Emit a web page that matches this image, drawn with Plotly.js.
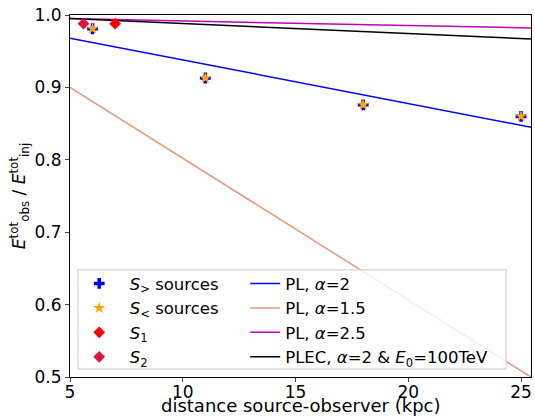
<!DOCTYPE html>
<html><head><meta charset="utf-8">
<script src="https://cdn.plot.ly/plotly-3.0.1.min.js"></script>
<style>body{margin:0;padding:0;}#plot{width:535px;height:417px;}</style>
</head><body><div id="plot"></div>
<script>
// Source points
const srcDist = [6, 11, 18, 25];
const srcBig = [0.981, 0.913, 0.876, 0.860];
const srcSmall = [0.981, 0.913, 0.876, 0.860];
const s1Dist = [7.0];
const s1Val = [0.988];
const s2Dist = [5.6];
const s2Val = [0.988];
// Model curves
const lineDist = [5, 10, 15, 20, 25.44];
const pl2 = [0.968, 0.938, 0.908, 0.878, 0.845];
const pl15 = [0.900, 0.802, 0.704, 0.607, 0.500];
const pl25 = [0.995, 0.992, 0.989, 0.986, 0.982];
const plec = [0.995, 0.988, 0.981, 0.974, 0.967];

const F = 'DejaVu Sans, sans-serif';
const NB = '&nbsp;&nbsp;';
const traces = [
  {x: srcDist, y: srcBig, mode: 'markers', name: NB + '<i>S</i><sub>></sub> sources',
   marker: {symbol: 'cross', color: 'blue', size: 9}, legend: 'legend'},
  {x: srcDist, y: srcSmall, mode: 'markers', name: NB + '<i>S</i><sub><</sub> sources',
   marker: {symbol: 'star', color: 'orange', size: 9}, legend: 'legend'},
  {x: s1Dist, y: s1Val, mode: 'markers', name: NB + '<i>S</i><sub>1</sub>',
   marker: {symbol: 'diamond', color: 'red', size: 9}, legend: 'legend'},
  {x: s2Dist, y: s2Val, mode: 'markers', name: NB + '<i>S</i><sub>2</sub>',
   marker: {symbol: 'diamond', color: 'crimson', size: 9}, legend: 'legend'},
  {x: lineDist, y: pl2, mode: 'lines', name: 'PL, <i>α</i>=2',
   line: {color: 'blue', width: 1.5}, legend: 'legend2'},
  {x: lineDist, y: pl15, mode: 'lines', name: 'PL, <i>α</i>=1.5',
   line: {color: 'darksalmon', width: 1.5}, legend: 'legend2'},
  {x: lineDist, y: pl25, mode: 'lines', name: 'PL, <i>α</i>=2.5',
   line: {color: '#bf00bf', width: 1.5}, legend: 'legend2'},
  {x: lineDist, y: plec, mode: 'lines', name: 'PLEC, <i>α</i>=2 & <i>E</i><sub>0</sub>=100TeV',
   line: {color: 'black', width: 1.5}, legend: 'legend2'}
];
// Draw lines below markers
const ordered = [traces[4], traces[5], traces[6], traces[7], traces[0], traces[1], traces[2], traces[3]];

const layout = {
  width: 535, height: 417,
  margin: {l: 70, r: 4, t: 15, b: 40},
  paper_bgcolor: 'white', plot_bgcolor: 'white',
  font: {family: F, size: 16, color: 'black'},
  showlegend: true,
  xaxis: {range: [5, 25.44], tickvals: [5, 10, 15, 20, 25], ticks: 'outside', ticklen: 4,
    ticklabelstandoff: -4,
    showgrid: false, zeroline: false, showline: true, mirror: true, linecolor: 'black', linewidth: 1,
    tickfont: {size: 17, family: F}},
  yaxis: {range: [0.5, 1.0], tickvals: [0.5, 0.6, 0.7, 0.8, 0.9, 1.0], ticktext: ['0.5','0.6','0.7','0.8','0.9','1.0'],
    ticks: 'outside', ticklen: 4,
    showgrid: false, zeroline: false, showline: true, mirror: true, linecolor: 'black', linewidth: 1,
    tickfont: {size: 17, family: F},
    title: {text: '<i>E</i><sup>tot</sup><sub>obs</sub> / <i>E</i><sup>tot</sup><sub>inj</sub>', font: {size: 17, family: F}, standoff: 4}},
  annotations: [{text: 'distance source-observer (kpc)', xref: 'paper', yref: 'paper',
    x: 0.5, y: -0.08, xanchor: 'center', yanchor: 'middle', showarrow: false,
    font: {size: 18, family: F}}],
  legend: {x: 0.02, y: 0.306, xanchor: 'left', yanchor: 'top', bgcolor: 'rgba(0,0,0,0)',
    font: {size: 16.5, family: F}, tracegroupgap: 0, itemwidth: 30},
  legend2: {x: 0.38, y: 0.306, xanchor: 'left', yanchor: 'top', bgcolor: 'rgba(0,0,0,0)',
    font: {size: 16.5, family: F}, tracegroupgap: 0, itemwidth: 30},
  shapes: [{type: 'rect', xref: 'paper', yref: 'paper', x0: 0.017, x1: 0.946, y0: 0.022, y1: 0.296,
    line: {color: '#cccccc', width: 1}, fillcolor: 'rgba(255,255,255,0.8)', layer: 'above'}]
};
Plotly.newPlot('plot', ordered, layout, {displayModeBar: false});
</script></body></html>
